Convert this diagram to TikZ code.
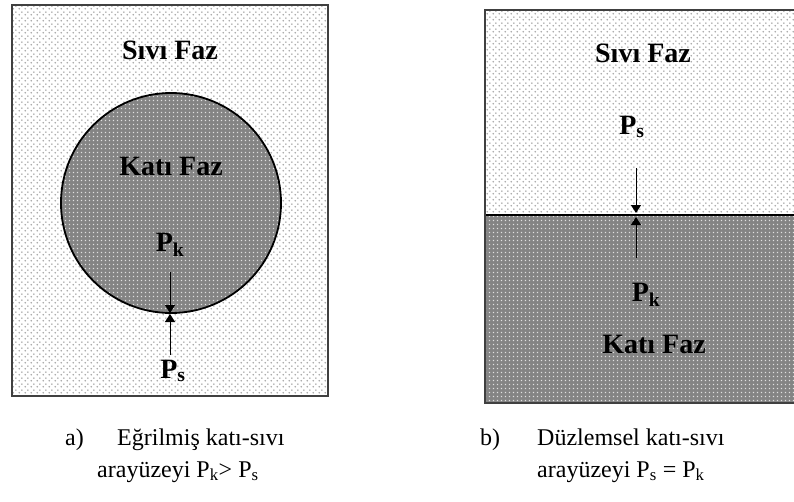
\documentclass[tikz,border=0pt]{standalone}
\usepackage{fontspec}
\setmainfont{Liberation Serif}
\usetikzlibrary{arrows.meta,patterns.meta}

\definecolor{solidgray}{RGB}{132,132,132}
\definecolor{framegray}{RGB}{64,64,64}

% dotted textures for the two phases
\tikzdeclarepattern{
  name=liquiddots, type=uncolored,
  bottom left={(0pt,0pt)}, top right={(6pt,6pt)}, tile size={(6pt,6pt)},
  code={\fill (1.5pt,1.5pt) circle (1pt); \fill (4.5pt,4.5pt) circle (1pt);}
}
\tikzdeclarepattern{
  name=soliddots, type=uncolored,
  bottom left={(0pt,0pt)}, top right={(4pt,4pt)}, tile size={(4pt,4pt)},
  code={\fill (1.2pt,1.2pt) rectangle (2.6pt,2.6pt);}
}

\tikzset{
  liquid/.style={pattern=liquiddots, pattern color=black!35},
  solid/.style={pattern=soliddots, pattern color=white!75!solidgray},
  frame/.style={draw=framegray, line width=2pt},
  phase/.style={font=\fontsize{28}{30}\selectfont\bfseries, anchor=base, inner sep=0pt},
  caption/.style={font=\fontsize{24}{28}\selectfont, anchor=base west, inner sep=0pt},
  force/.style={line width=1pt, -{Triangle[width=10pt,length=8pt]}}
}

\begin{document}
\begin{tikzpicture}[x=1pt,y=-1pt]
\useasboundingbox (0,0) rectangle (794,501);

% ====================
% a) curved interface: solid sphere inside the liquid
\fill[white] (12,5) rectangle (328,396);
\fill[liquid] (12,5) rectangle (328,396);
\fill[solidgray] (171,203) circle (110);
\fill[solid] (171,203) circle (110);
\draw[line width=1.8pt] (171,203) circle (110);
\draw[frame] (12,5) rectangle (328,396);
% labels
\node[phase] (sivia) at (170,59) {Sıvı Faz};
\node[phase] (katia) at (171,175) {Katı Faz};
\node[phase] (pka) at (170,251) {P\textsubscript{k}};
\node[phase] (psa) at (173,378) {P\textsubscript{s}};
% pressures meeting at the bottom of the sphere
\coordinate (pkatail) at (170,272);
\coordinate (psatail) at (170,355);
\coordinate (kdip) at (170,313);
\coordinate (sdip) at (170,314);
\draw[force] (pkatail) -- (kdip);
\draw[force] (psatail) -- (sdip);

% ====================
% b) flat interface: liquid above, solid below
\fill[white] (485,10) rectangle (797,215);
\fill[liquid] (485,10) rectangle (797,215);
\fill[solidgray] (485,215) rectangle (797,403);
\fill[solid] (485,215) rectangle (797,403);
\draw[line width=2.4pt] (485,215) -- (797,215);
\draw[frame] (485,10) rectangle (797,403);
% labels
\node[phase] (sivib) at (643,62) {Sıvı Faz};
\node[phase] (psb) at (632,134) {P\textsubscript{s}};
\node[phase] (pkb) at (646,301) {P\textsubscript{k}};
\node[phase] (katib) at (654,353) {Katı Faz};
% pressures meeting at the plane
\coordinate (psbtail) at (636,168);
\coordinate (pkbtail) at (636,258);
\coordinate (splane) at (636,213);
\coordinate (kplane) at (636,217);
\draw[force] (psbtail) -- (splane);
\draw[force] (pkbtail) -- (kplane);

% ====================
% captions
\node[caption] (capa) at (65,445) {a)};
\node[caption] (capaone) at (117,445) {Eğrilmiş katı-sıvı};
\node[caption] (capatwo) at (97,477) {arayüzeyi P\textsubscript{k}> P\textsubscript{s}};
\node[caption] (capb) at (480,445) {b)};
\node[caption] (capbone) at (537,445) {Düzlemsel katı-sıvı};
\node[caption] (capbtwo) at (537,477) {arayüzeyi P\textsubscript{s} = P\textsubscript{k}};
\end{tikzpicture}
\end{document}
